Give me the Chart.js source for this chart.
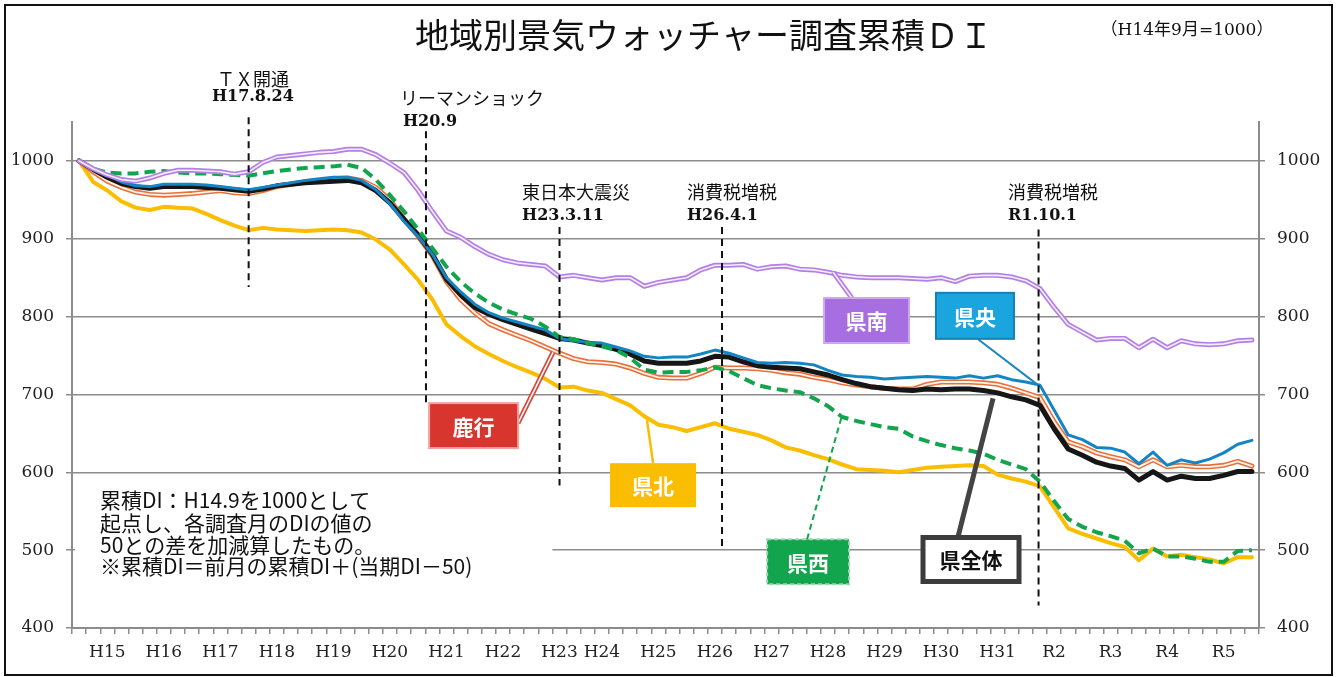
<!DOCTYPE html>
<html><head><meta charset="utf-8">
<script src="https://cdn.jsdelivr.net/npm/chart.js@4.4.1/dist/chart.umd.min.js"></script>
<style>html,body{margin:0;padding:0;background:#fff;}#wrap{width:1339px;height:677px;}</style>
</head><body><div id="wrap"><canvas id="c" width="1339" height="677"></canvas></div>
<script>
// Quarterly categories starting H14.9 (=1000); only year labels shown
const xLabels = [
 '', '', 'H15', '',  '', '', 'H16', '',  '', '', 'H17', '',  '', '', 'H18', '',
 '', '', 'H19', '',  '', '', 'H20', '',  '', '', 'H21', '',  '', '', 'H22', '',
 '', '', 'H23', '',  '', 'H24', '', '',  '', 'H25', '', '',  '', 'H26', '', '',
 '', 'H27', '', '',  '', 'H28', '', '',  '', 'H29', '', '',  '', 'H30', '', '',
 '', 'H31', '', '',  '', 'R2', '', '',   '', 'R3', '', '',   '', 'R4', '', '',
 '', 'R5', '', ''
];
const yTicks = [400, 500, 600, 700, 800, 900, 1000];

const kenpoku = [1000,973,962,948,940,937,941,940,939,932, 924,917,911,914,912,911,910,911,912,911,
 908,899,886,867,847,822,790,775,762,752, 743,735,728,720,709,710,705,702,694,686,
 672,661,658,653,658,663,656,652,648,641, 632,628,622,617,610,604,603,602,600,603,
 606,607,608,609,608,597,592,588,582,555, 528,521,515,509,504,487,502,492,494,491,
 488,483,491,491];
const kensei = [1000,990,985,984,984,986,987,985,984,984, 983,982,981,984,987,989,991,992,993,995,
 991,976,956,935,912,888,864,845,830,818, 809,803,797,787,774,771,766,762,757,747,
 732,728,729,729,731,735,730,721,712,708, 705,703,695,685,671,666,662,658,656,646,
 640,635,631,628,624,616,610,604,588,563, 540,530,523,518,512,496,502,492,492,489,
 485,485,499,500];
const kennan = [1000,990,982,976,974,978,984,988,988,987, 986,983,986,998,1005,1007,1009,1011,1012,1015,
 1015,1008,997,985,962,935,910,902,890,880, 873,869,867,865,851,853,850,847,850,850,
 839,844,847,850,860,866,866,867,861,864, 865,861,860,857,853,851,850,850,850,849,
 848,850,845,852,853,853,851,846,836,812, 790,780,770,772,772,760,771,760,769,765,
 764,765,769,770];
const kenou = [1000,990,982,973,968,967,970,970,970,969, 967,965,963,966,969,972,975,977,979,979,
 975,963,945,922,903,880,850,832,816,805, 798,793,788,783,772,769,767,766,761,756,
 749,747,748,748,752,757,753,747,741,740, 741,740,738,731,725,723,722,720,721,722,
 723,722,721,724,721,724,719,716,712,680, 648,642,632,631,626,611,626,609,616,612,
 617,625,636,641];
const kenzentai = [1000,989,979,971,967,965,967,967,967,966, 965,963,961,964,968,970,972,973,974,975,
 972,962,946,925,905,880,848,828,812,803, 796,790,784,778,772,770,766,763,758,752,
 743,740,740,740,743,749,748,742,737,735, 734,733,729,725,719,714,710,708,706,705,
 707,706,707,707,705,702,697,693,686,656, 630,622,613,608,605,590,601,590,595,592,
 592,596,601,601];
const rokkou = [1000,986,974,966,960,957,956,957,958,960, 962,959,958,962,967,970,973,975,977,978,
 975,966,950,925,903,878,845,822,805,791, 783,776,769,761,753,746,742,741,739,734,
 727,722,721,721,727,735,734,734,733,731, 728,726,722,719,715,712,710,708,707,707,
 713,716,716,716,715,713,708,702,696,665, 639,633,625,620,616,607,616,607,609,607,
 607,609,614,608];

const eventNames = ['ＴＸ開通', 'リーマンショック', '東日本大震災', '消費税増税', '消費税増税'];
const eventDates = ['H17.8.24', 'H20.9', 'H23.3.11', 'H26.4.1', 'R1.10.1'];

const title = '地域別景気ウォッチャー調査累積ＤＩ';
const baseNote = '（H14年9月=1000）';
const noteLines = ['累積DI：H14.9を1000として', '起点し、各調査月のDIの値の', '50との差を加減算したもの。', '※累積DI＝前月の累積DI＋(当期DI－50)'];

const JP = '"Noto Sans CJK JP", sans-serif';
const SERIF_JP = '"DejaVu Serif", "Noto Sans CJK JP", serif';

// event markers: positions in scale units (category index, value)
const eventGeom = [
  {at:12.0, top:1056, bottom:838, align:'center', tx:12.3, nameV:1105, dateV:1082},
  {at:24.55, top:1038, bottom:690, align:'left', tx:22.71, tx2:22.92, nameV:1080, dateV:1050},
  {at:34.0, top:915, bottom:583, align:'left', tx:31.35, nameV:960, dateV:929},
  {at:45.5, top:915, bottom:500, align:'left', tx:43.02, nameV:960, dateV:929},
  {at:67.9, top:912, bottom:429, align:'left', tx:65.74, nameV:960, dateV:929}
];

const callouts = [
  {text:'県南', c:[55.73,795], w:85, h:45, fill:'#a66ee0', stroke:'#cda8f2', sw:2, color:'#fff', from:[54.69,824], to:[53.36,857], line:{c:'#b27fe2', w:5, inner:'#f3e8fb'}},
  {text:'県央', c:[63.40,801], w:78, h:46, fill:'#1aa5df', stroke:'#1580b4', sw:2, color:'#fff', from:[63.62,771], to:[67.8,713], line:{c:'#1a86c0', w:2}},
  {text:'鹿行', c:[27.92,660], w:89, h:45, fill:'#d8352f', stroke:'#f0a3a0', sw:2, color:'#fff', from:[31.06,663], to:[33.54,754], line:{c:'#d9453c', w:5, inner:'#fff'}},
  {text:'県北', c:[40.62,583.5], w:86, h:44, fill:'#fbbd00', stroke:null, sw:0, color:'#fff', from:[40.62,612], to:[40.19,667], line:{c:'#fbbd00', w:2.5}},
  {text:'県西', c:[51.59,485], w:82, h:45, fill:'#13a54e', stroke:'#9cd9b2', sw:2, dash:[4,3], color:'#fff', from:[51.52,514], to:[53.99,673], line:{c:'#13a54e', w:2, dash:[6,4]}},
  {text:'県全体', c:[63.12,488], w:96, h:44, fill:'#fff', stroke:'#3c3c3c', sw:5, color:'#111', from:[62.2,517], to:[64.68,695], line:{c:'#444', w:5}}
];

const deco = {
  id: 'deco',
  beforeDatasetsDraw(chart) {
    const ctx = chart.ctx, x = chart.scales.x, y = chart.scales.y;
    ctx.save();
    ctx.fillStyle = '#fff';
    const l = chart.chartArea.left + 3, r = x.getPixelForValue(33.5);
    const t = y.getPixelForValue(592), b = y.getPixelForValue(450);
    ctx.fillRect(l, t, r - l, b - t);
    ctx.restore();
  },
  afterDatasetsDraw(chart) {
    const ctx = chart.ctx, x = chart.scales.x, y = chart.scales.y;
    const P = (p) => [x.getPixelForValue(p[0]), y.getPixelForValue(p[1])];
    ctx.save();
    eventGeom.forEach((g, i) => {
      const px = x.getPixelForValue(g.at);
      ctx.strokeStyle = '#111'; ctx.lineWidth = 2; ctx.setLineDash([7,5]);
      ctx.beginPath(); ctx.moveTo(px, y.getPixelForValue(g.top)); ctx.lineTo(px, y.getPixelForValue(g.bottom)); ctx.stroke();
      ctx.setLineDash([]);
      ctx.fillStyle = '#111'; ctx.textBaseline = 'middle'; ctx.textAlign = g.align;
      ctx.font = '18px ' + JP;
      ctx.fillText(eventNames[i], x.getPixelForValue(g.tx), y.getPixelForValue(g.nameV));
      ctx.font = 'bold 16px ' + SERIF_JP;
      ctx.fillText(eventDates[i], x.getPixelForValue(g.tx2 !== undefined ? g.tx2 : g.tx), y.getPixelForValue(g.dateV));
    });
    callouts.forEach(c => {
      const a = P(c.from), b = P(c.to);
      ctx.lineCap = 'butt';
      ctx.strokeStyle = c.line.c; ctx.lineWidth = c.line.w; ctx.setLineDash(c.line.dash || []);
      ctx.beginPath(); ctx.moveTo(a[0], a[1]); ctx.lineTo(b[0], b[1]); ctx.stroke();
      if (c.line.inner) {
        ctx.strokeStyle = c.line.inner; ctx.lineWidth = 1.6;
        ctx.beginPath(); ctx.moveTo(a[0], a[1]); ctx.lineTo(b[0], b[1]); ctx.stroke();
      }
      ctx.setLineDash([]);
    });
    callouts.forEach(c => {
      const cc = P(c.c);
      const bx = cc[0] - c.w / 2, by = cc[1] - c.h / 2;
      ctx.fillStyle = c.fill; ctx.fillRect(bx, by, c.w, c.h);
      if (c.stroke) {
        ctx.strokeStyle = c.stroke; ctx.lineWidth = c.sw; ctx.setLineDash(c.dash || []);
        ctx.strokeRect(bx, by, c.w, c.h); ctx.setLineDash([]);
      }
      ctx.fillStyle = c.color; ctx.font = 'bold 21px ' + JP;
      ctx.textAlign = 'center'; ctx.textBaseline = 'middle';
      ctx.fillText(c.text, cc[0], cc[1] + 1);
    });
    ctx.fillStyle = '#111'; ctx.font = '21px ' + JP; ctx.textAlign = 'left'; ctx.textBaseline = 'middle';
    const nx = x.getPixelForValue(1.48);
    const noteV = [564, 535.5, 507, 479];
    noteLines.forEach((s, i) => ctx.fillText(s, nx, y.getPixelForValue(noteV[i])));
    ctx.restore();
  },
  afterDraw(chart) {
    const ctx = chart.ctx;
    ctx.save();
    ctx.fillStyle = '#111'; ctx.textBaseline = 'middle'; ctx.textAlign = 'center';
    ctx.font = '34px ' + JP;
    ctx.fillText(title, 704, 35);
    ctx.font = '17px ' + SERIF_JP;
    ctx.fillText(baseNote, 1187, 31);
    ctx.strokeStyle = '#111'; ctx.lineWidth = 2;
    ctx.strokeRect(5, 5, 1327, 670);
    ctx.restore();
  }
};

const ds = (label, data, color, width, order, extra) => Object.assign({
  label, data, borderColor: color, borderWidth: width, pointRadius: 0, tension: 0,
  fill: false, borderJoinStyle: 'round', borderCapStyle: 'round', order
}, extra || {});

const gridColor = '#8c8c8c';
const tickFont = {family: '"DejaVu Serif", serif', size: 17};
const plain = (v) => String(v);

new Chart(document.getElementById('c'), {
  type: 'line',
  data: {
    labels: xLabels,
    datasets: [
      ds('県北', kenpoku, '#fbbd00', 4, 7),
      ds('鹿行', rokkou, '#e8703a', 5, 6),
      ds('鹿行_inner', rokkou, '#fff3ec', 1.8, 5),
      ds('県全体', kenzentai, '#161616', 5, 4),
      ds('県央', kenou, '#1485c4', 3, 3),
      ds('県西', kensei, '#13a54e', 4, 2, {borderDash: [11, 6], borderCapStyle: 'butt'}),
      ds('県南', kennan, '#b380e3', 5, 1),
      ds('県南_inner', kennan, '#f4ebfc', 1.6, 0)
    ]
  },
  options: {
    responsive: false, animation: false, devicePixelRatio: 1,
    layout: {padding: {top: 122, left: 0, right: 0, bottom: 0}},
    plugins: {legend: {display: false}, tooltip: {enabled: false}, title: {display: false}},
    scales: {
      x: {
        type: 'category', offset: true,
        grid: {drawOnChartArea: false, offset: true, tickLength: 6, color: gridColor, lineWidth: 1.5},
        border: {color: gridColor, width: 2},
        ticks: {autoSkip: false, maxRotation: 0, minRotation: 0, font: {family: '"DejaVu Serif", serif', size: 17}, color: '#222', padding: 8},
        afterFit(s) { s.height = 49; }
      },
      y: {
        position: 'left', min: 400, max: 1050,
        afterBuildTicks(s) { s.ticks = yTicks.map(v => ({value: v})); },
        grid: {color: gridColor, lineWidth: 1.5, tickLength: 6},
        border: {color: gridColor, width: 2},
        ticks: {font: tickFont, color: '#222', padding: 12, callback: plain},
        afterFit(s) { s.width = 72; }
      },
      y2: {
        position: 'right', min: 400, max: 1050,
        afterBuildTicks(s) { s.ticks = yTicks.map(v => ({value: v})); },
        grid: {drawOnChartArea: false, color: gridColor, lineWidth: 1.5, tickLength: 6},
        border: {color: gridColor, width: 2},
        ticks: {font: tickFont, color: '#222', padding: 12, callback: plain},
        afterFit(s) { s.width = 80; }
      }
    }
  },
  plugins: [deco]
});
</script>
</body></html>
